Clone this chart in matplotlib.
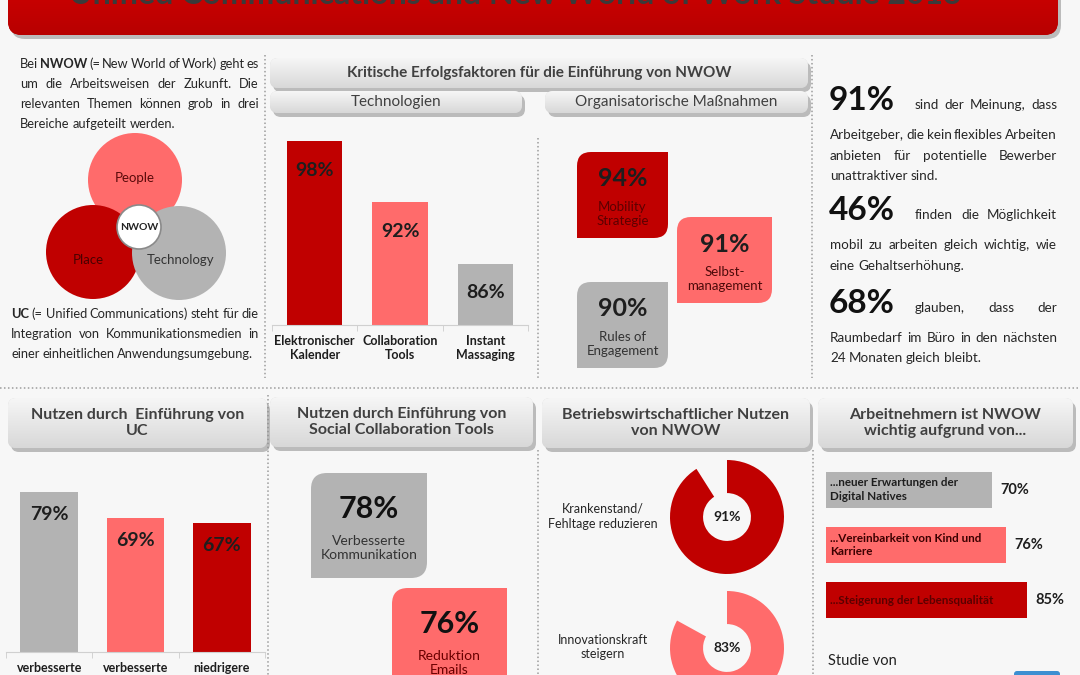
import numpy as np
import matplotlib
matplotlib.use('Agg')
import matplotlib.pyplot as plt
from matplotlib.patches import FancyBboxPatch, Circle, PathPatch
from matplotlib.path import Path
from matplotlib.colors import LinearSegmentedColormap

plt.rcParams['font.family'] = ['Lato', 'DejaVu Sans']

# ---- data ----
title = 'Unified Communications and New World of Work Studie 2013'

tech_labels = ['Elektronischer\nKalender', 'Collaboration\nTools', 'Instant\nMassaging']
tech_values = [98, 92, 86]

org_labels = ['Mobility\nStrategie', 'Selbst-\nmanagement', 'Rules of\nEngagement']
org_values = [94, 91, 90]

uc_labels = ['verbesserte', 'verbesserte', 'niedrigere']
uc_values = [79, 69, 67]

social_labels = ['Verbesserte\nKommunikation', 'Reduktion\nEmails']
social_values = [78, 76]

donut_labels = ['Krankenstand/\nFehltage reduzieren', 'Innovationskraft\nsteigern']
donut_values = [91, 83]

reason_labels = ['...neuer Erwartungen der\nDigital Natives',
                 '...Vereinbarkeit von Kind und\nKarriere',
                 '...Steigerung der Lebensqualität']
reason_values = [70, 76, 85]

stat_values = [91, 46, 68]
stat_lead = ['sind der Meinung, dass', 'finden die Möglichkeit', 'glauben, dass der']
stat_rest = [['Arbeitgeber, die kein flexibles Arbeiten',
              'anbieten für potentielle Bewerber',
              'unattraktiver sind.'],
             ['mobil zu arbeiten gleich wichtig, wie',
              'eine Gehaltserhöhung.'],
             ['Raumbedarf im Büro in den nächsten',
              '24 Monaten gleich bleibt.']]

intro_lines = ['Bei NWOW (= New World of Work) geht es',
               'um die Arbeitsweisen der Zukunft. Die',
               'relevanten Themen können grob in drei',
               'Bereiche aufgeteilt werden.']
uc_lines = ['UC (= Unified Communications) steht für die',
            'Integration von Kommunikationsmedien in',
            'einer einheitlichen Anwendungsumgebung.']
venn_labels = ['People', 'Place', 'Technology']

# ---- colours ----
RED = '#c00000'
SALMON = '#ff6b6b'
GREY = '#b3b3b3'
DARK = '#1e1e1e'
HEAD = '#404040'

W, H = 1080, 675
fig = plt.figure(figsize=(W / 100, H / 100), dpi=100, facecolor='#f7f7f7')
ax = fig.add_axes([0, 0, 1, 1])
ax.set_xlim(0, W)
ax.set_ylim(H, 0)
ax.axis('off')
renderer = fig.canvas.get_renderer()


def px_axes(x0, y0, x1, y1):
    a = fig.add_axes([x0 / W, 1 - y1 / H, (x1 - x0) / W, (y1 - y0) / H])
    a.patch.set_alpha(0)
    return a


def gradient_box(x0, y0, x1, y1, c_top, c_bot, rs=8, shadow=True, z=2):
    if shadow:
        ax.add_patch(FancyBboxPatch((x0 + 3, y0 + 4), x1 - x0, y1 - y0,
                                    boxstyle=f'round,pad=0,rounding_size={rs}',
                                    fc='#8a8a8a', ec='none', alpha=0.55, zorder=z - 1))
    box = FancyBboxPatch((x0, y0), x1 - x0, y1 - y0,
                         boxstyle=f'round,pad=0,rounding_size={rs}',
                         fc=c_bot, ec='none', zorder=z)
    ax.add_patch(box)
    cmap = LinearSegmentedColormap.from_list('g', [c_top, c_bot])
    im = ax.imshow(np.linspace(0, 1, 64).reshape(-1, 1), extent=(x0, x1, y1, y0),
                   aspect='auto', cmap=cmap, zorder=z + 0.1)
    im.set_clip_path(box)


def header(x0, y0, x1, y1, text, bold=True, size=11):
    gradient_box(x0, y0, x1, y1, '#f6f6f6', '#d8d8d8')
    ax.text((x0 + x1) / 2, (y0 + y1) / 2, text, ha='center', va='center',
            fontsize=size, fontweight='bold' if bold else 'normal',
            color=HEAD, zorder=5, linespacing=1.15)


def leaf(x0, y0, x1, y1, color, r=14):
    verts = [(x0 + r, y0), (x1, y0), (x1, y1 - r), (x1, y1), (x1 - r, y1),
             (x0, y1), (x0, y0 + r), (x0, y0), (x0 + r, y0)]
    codes = [Path.MOVETO, Path.LINETO, Path.LINETO, Path.CURVE3, Path.CURVE3,
             Path.LINETO, Path.LINETO, Path.CURVE3, Path.CURVE3]
    ax.add_patch(PathPatch(Path(verts, codes), fc=color, ec='none', zorder=3))


def justify(line, x0, x1, y, size, bold_words=(), last=False, color='#262626'):
    words = line.split(' ')
    objs = [ax.text(0, y, w, fontsize=size, color=color, va='baseline', ha='left',
                    fontweight='bold' if w in bold_words else 'normal', zorder=5)
            for w in words]
    widths = [o.get_window_extent(renderer).width for o in objs]
    space = size * 100 / 72 * 0.23
    gap = space if last or len(words) == 1 else (x1 - x0 - sum(widths)) / (len(words) - 1)
    gap = max(gap, space * 0.6)
    x = x0
    for o, w in zip(objs, widths):
        o.set_x(x)
        x += w + gap


def dotted(x0, y0, x1, y1):
    ax.plot([x0, x1], [y0, y1], color='#9c9c9c', lw=1.1, ls=(0, (1, 1.6)), zorder=1)


# ---- title banner ----
gradient_box(8, -40, 1058, 35, '#d80000', '#b80000', rs=14)
ax.text(515, 4, title, ha='center', va='baseline', fontsize=23, fontweight='bold',
        color='#3a3a3a', zorder=6)

# ---- separators ----
dotted(265, 55, 265, 378)
dotted(812, 55, 812, 378)
dotted(538, 138, 538, 378)
dotted(0, 388, W, 388)
dotted(268, 395, 268, H)
dotted(538, 450, 538, H)
dotted(813, 450, 813, H)

# ---- left column text ----
BODY = 9.3
for i, line in enumerate(intro_lines):
    justify(line, 20, 259, 68 + 20 * i, BODY, bold_words=('NWOW',),
            last=(i == len(intro_lines) - 1))
for i, line in enumerate(uc_lines):
    justify(line, 11, 259, 318 + 20 * i, BODY, bold_words=('UC',),
            last=(i == len(uc_lines) - 1))

# venn
venn_pos = [(135, 180), (93, 252), (179, 253)]
venn_cols = [SALMON, RED, GREY]
venn_text_pos = [(135, 178), (88, 260), (181, 260)]
for (cx, cy), c in zip(venn_pos, venn_cols):
    ax.add_patch(Circle((cx, cy), 47, fc=c, ec='none', zorder=2))
for (tx, ty), lab, tc in zip(venn_text_pos, venn_labels, ['#5a0a0a', '#4a0000', '#333333']):
    ax.text(tx, ty, lab, ha='center', va='center', fontsize=9.5, color=tc, zorder=4)
ax.add_patch(Circle((139, 227), 22, fc='white', ec='#8a8a8a', lw=1.2, zorder=3))
ax.text(139, 228, 'NWOW', ha='center', va='center', fontsize=7.5,
        fontweight='bold', color='#222222', zorder=4)

# ---- top middle ----
header(270, 58, 808, 88, 'Kritische Erfolgsfaktoren für die Einführung von NWOW', size=11)
header(270, 91, 522, 113, 'Technologien', bold=False, size=11)
header(545, 91, 808, 113, 'Organisatorische Maßnahmen', bold=False, size=11)

axt = px_axes(272, 141, 528, 325)
axt.bar(range(len(tech_values)), tech_values, width=0.65, color=[RED, SALMON, GREY])
axt.set_ylim(80, 98)
axt.set_xlim(-0.5, 2.5)
for i, v in enumerate(tech_values):
    axt.annotate(f'{v}%', (i, v), xytext=(0, -29), textcoords='offset pixels',
                 ha='center', va='center', fontsize=14, fontweight='bold', color=DARK)
axt.set_xticks(range(len(tech_labels)), tech_labels, fontsize=9, fontweight='bold',
               color=DARK, linespacing=1.25)
axt.set_xticks([-0.5, 0.5, 1.5, 2.5], minor=True)
axt.tick_params(axis='x', which='major', length=0, pad=7)
axt.tick_params(axis='x', which='minor', length=4, color='#cccccc')
axt.set_yticks([])
for s in ['top', 'left', 'right']:
    axt.spines[s].set_visible(False)
axt.spines['bottom'].set_color('#d0d0d0')

org_boxes = [(577, 152, 668, 238), (677, 217, 772, 303), (577, 282, 668, 368)]
org_cols = [RED, SALMON, GREY]
org_tcols = ['#5c0000', '#4d0a0a', '#333333']
for (x0, y0, x1, y1), v, lab, c, tc in zip(org_boxes, org_values, org_labels, org_cols, org_tcols):
    leaf(x0, y0, x1, y1, c)
    ax.text((x0 + x1) / 2, y0 + 27, f'{v}%', ha='center', va='center', fontsize=18,
            fontweight='bold', color=DARK, zorder=4)
    ax.text((x0 + x1) / 2, y0 + 62, lab, ha='center', va='center', fontsize=9.5,
            color=tc, zorder=4, linespacing=1.2)

# ---- right column ----
stat_base = [110, 220, 313]
for k, (v, lead, rest) in enumerate(zip(stat_values, stat_lead, stat_rest)):
    b = stat_base[k]
    ax.text(829, b, f'{v}%', ha='left', va='baseline', fontsize=24, fontweight='bold',
            color='#111111', zorder=5)
    justify(lead, 915, 1057, b - 1, BODY + 0.4)
    for j, line in enumerate(rest):
        justify(line, 830, 1057, b + 29 + 20.5 * j, BODY + 0.4, last=(j == len(rest) - 1))

# ---- bottom headers ----
header(8, 398, 267, 448, 'Nutzen durch  Einführung von\nUC', size=11.5)
header(270, 397, 533, 447, 'Nutzen durch Einführung von\nSocial Collaboration Tools', size=11.5)
header(542, 398, 810, 448, 'Betriebswirtschaftlicher Nutzen\nvon NWOW', size=11.5)
header(818, 398, 1073, 448, 'Arbeitnehmern ist NWOW\nwichtig aufgrund von...', size=11.5)

# UC bars
axu = px_axes(6, 492, 265, 652)
axu.bar(range(len(uc_values)), uc_values, width=0.67, color=[GREY, SALMON, RED])
axu.set_ylim(17, 79)
axu.set_xlim(-0.5, 2.5)
for i, v in enumerate(uc_values):
    axu.annotate(f'{v}%', (i, v), xytext=(0, -23), textcoords='offset pixels',
                 ha='center', va='center', fontsize=14, fontweight='bold', color=DARK)
axu.set_xticks(range(len(uc_labels)), uc_labels, fontsize=9, fontweight='bold', color=DARK)
axu.set_xticks([-0.5, 0.5, 1.5, 2.5], minor=True)
axu.tick_params(axis='x', which='major', length=0, pad=7)
axu.tick_params(axis='x', which='minor', length=4, color='#cccccc')
axu.set_yticks([])
for s in ['top', 'left', 'right']:
    axu.spines[s].set_visible(False)
axu.spines['bottom'].set_color('#d0d0d0')

# social tiles
social_boxes = [(311, 473, 427, 578), (392, 588, 507, 693)]
social_cols = [GREY, SALMON]
social_tcols = ['#333333', '#6a0000']
for (x0, y0, x1, y1), v, lab, c, tc in zip(social_boxes, social_values, social_labels,
                                          social_cols, social_tcols):
    leaf(x0, y0, x1, y1, c, r=16)
    ax.text((x0 + x1) / 2, y0 + 36, f'{v}%', ha='center', va='center', fontsize=22,
            fontweight='bold', color='#111111', zorder=4)
    ax.text((x0 + x1) / 2, y0 + 75, lab, ha='center', va='center', fontsize=10,
            color=tc, zorder=4, linespacing=1.25)

# donuts
donut_centers = [(727, 517), (727, 648)]
donut_cols = [RED, SALMON]
for (cx, cy), v, lab, c in zip(donut_centers, donut_values, donut_labels, donut_cols):
    axd = px_axes(cx - 57, cy - 57, cx + 57, cy + 57)
    axd.pie([v, 100 - v], colors=[c, (0, 0, 0, 0)], startangle=90, counterclock=False,
            radius=1, wedgeprops=dict(width=0.58, edgecolor='none'))
    axd.set_xlim(-1, 1)
    axd.set_ylim(-1, 1)
    axd.text(0, 0, f'{v}%', ha='center', va='center', fontsize=10, fontweight='bold',
             color=DARK)
    ax.text(603, cy - 1, lab, ha='center', va='center', fontsize=9, color='#262626',
            linespacing=1.3, zorder=4)

# reasons
axr = px_axes(826, 462, 1063, 628)
axr.barh(range(len(reason_values)), reason_values, height=0.65, color=[GREY, SALMON, RED])
axr.set_xlim(0, 100)
axr.set_ylim(2.5, -0.5)
axr.axis('off')
for i, (v, lab, tc) in enumerate(zip(reason_values, reason_labels,
                                     ['#1e1e1e', '#3a0000', '#5a0000'])):
    axr.annotate(lab, (0, i), xytext=(4, 0), textcoords='offset pixels', ha='left',
                 va='center', fontsize=8.4, fontweight='bold', color=tc, linespacing=1.3)
    axr.annotate(f'{v}%', (v, i), xytext=(8, 0), textcoords='offset pixels', ha='left',
                 va='center', fontsize=10.5, fontweight='bold', color=DARK)

ax.text(828, 665, 'Studie von', ha='left', va='baseline', fontsize=10.5, color='#222222')
ax.add_patch(FancyBboxPatch((1014, 671), 46, 20, boxstyle='round,pad=0,rounding_size=3',
                            fc='#3d8fd1', ec='none', zorder=3))

ax.set_xlim(0, W)
ax.set_ylim(H, 0)
fig.savefig('out.png', dpi=100, facecolor=fig.get_facecolor())
